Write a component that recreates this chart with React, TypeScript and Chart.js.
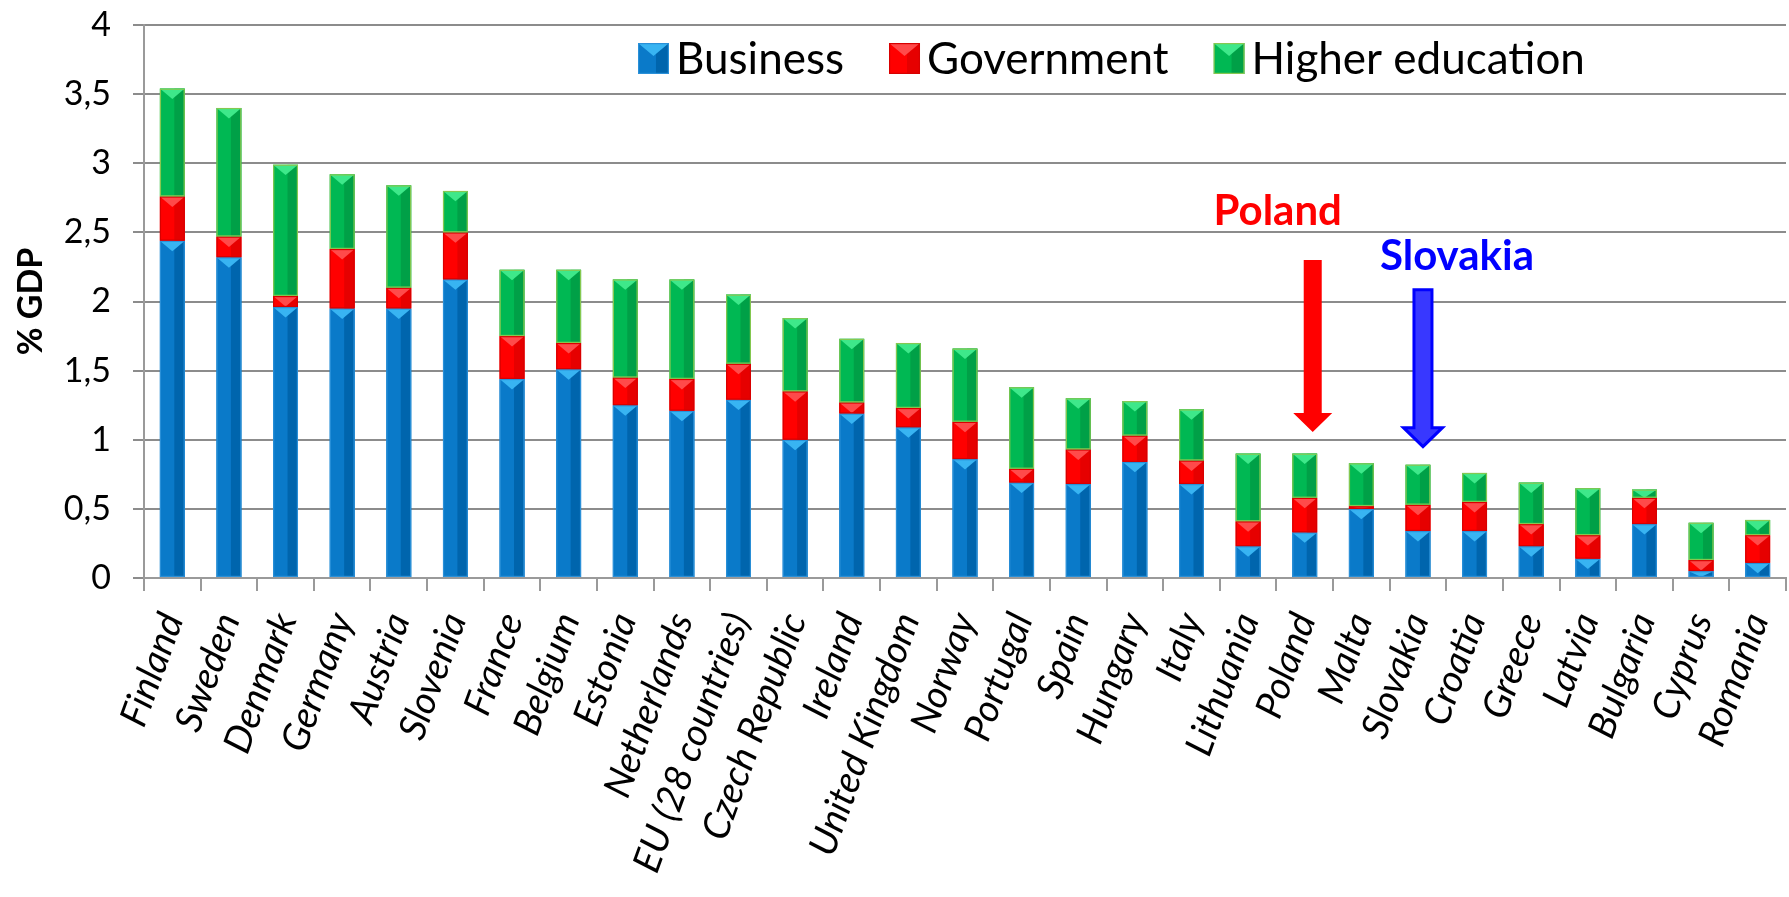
import React, { useEffect, useRef } from 'react';
import { Chart, registerables } from 'chart.js';

Chart.register(...registerables);

const categories = [
  'Finland', 'Sweden', 'Denmark', 'Germany', 'Austria', 'Slovenia', 'France', 'Belgium',
  'Estonia', 'Netherlands', 'EU (28 countries)', 'Czech Republic', 'Ireland', 'United Kingdom',
  'Norway', 'Portugal', 'Spain', 'Hungary', 'Italy', 'Lithuania', 'Poland', 'Malta', 'Slovakia',
  'Croatia', 'Greece', 'Latvia', 'Bulgaria', 'Cyprus', 'Romania',
];

const business = [
  2.44, 2.32, 1.96, 1.95, 1.95, 2.16, 1.44, 1.51, 1.25, 1.21, 1.29, 1.0, 1.19, 1.09,
  0.86, 0.69, 0.68, 0.84, 0.68, 0.23, 0.33, 0.5, 0.34, 0.34, 0.23, 0.14, 0.39, 0.05, 0.11,
];

const government = [
  0.32, 0.15, 0.08, 0.43, 0.15, 0.34, 0.31, 0.19, 0.2, 0.23, 0.26, 0.35, 0.08, 0.14,
  0.27, 0.1, 0.25, 0.19, 0.17, 0.18, 0.25, 0.02, 0.19, 0.21, 0.16, 0.17, 0.19, 0.08, 0.2,
];

const higherEducation = [
  0.78, 0.93, 0.95, 0.54, 0.74, 0.3, 0.48, 0.53, 0.71, 0.72, 0.5, 0.53, 0.46, 0.47,
  0.53, 0.59, 0.37, 0.25, 0.37, 0.49, 0.32, 0.31, 0.29, 0.21, 0.3, 0.34, 0.06, 0.27, 0.11,
];

const seriesNames = ['Business', 'Government', 'Higher education'];

const yAxisTitle = '% GDP';

const highlights = [
  { label: 'Poland', category: 'Poland', color: '#ff0000', fill: '#ff0000', outline: '', textDx: -27, textValue: 2.553, arrowDx: 8, arrowTop: 2.3, arrowTip: 1.056 },
  { label: 'Slovakia', category: 'Slovakia', color: '#0000ff', fill: '#3838ff', outline: '#0000ff', textDx: 39, textValue: 2.228, arrowDx: 5, arrowTop: 2.085, arrowTip: 0.95 },
];

const FONT = 'Lato, "Open Sans", "DejaVu Sans", sans-serif';

const styles = [
  { main: '#0a7ac9', dark: '#0065ad', light: '#38b4f2', border: '#2a90d8' },
  { main: '#ff0000', dark: '#e60000', light: '#ff4a4a', border: '#d80000' },
  { main: '#00b853', dark: '#00a047', light: '#3ee88a', border: '#86c850' },
];

function drawBevelBox(ctx: CanvasRenderingContext2D, left: number, top: number, width: number, h: number, st: any) {
  if (h <= 0.2) return;
  const right = left + width;
  const cx = left + width / 2;
  ctx.save();
  ctx.beginPath();
  ctx.rect(left, top, width, h);
  ctx.clip();
  ctx.fillStyle = st.main;
  ctx.fillRect(left, top, width, h);
  ctx.fillStyle = st.dark;
  ctx.fillRect(cx + width * 0.08, top, right - (cx + width * 0.08), h);
  const th = Math.min(width * 0.42, h);
  ctx.fillStyle = st.light;
  ctx.beginPath();
  ctx.moveTo(left, top);
  ctx.lineTo(right, top);
  ctx.lineTo(cx, top + th);
  ctx.closePath();
  ctx.fill();
  ctx.restore();
  ctx.save();
  ctx.strokeStyle = st.border;
  ctx.lineWidth = 1.2;
  ctx.strokeRect(left + 0.6, top + 0.6, width - 1.2, Math.max(h - 1.2, 0.1));
  ctx.restore();
}

const bevelPlugin = {
  id: 'bevelBars',
  afterDatasetsDraw(chart: any) {
    const ctx = chart.ctx as CanvasRenderingContext2D;
    chart.data.datasets.forEach((_ds: any, di: number) => {
      const meta = chart.getDatasetMeta(di);
      const st = styles[di];
      meta.data.forEach((bar: any) => {
        const { x, y, base, width } = bar.getProps(['x', 'y', 'base', 'width'], true);
        const top = Math.min(y, base);
        const bottom = Math.max(y, base);
        drawBevelBox(ctx, x - width / 2, top, width, bottom - top, st);
      });
    });
  },
};

const legendPlugin = {
  id: 'insideLegend',
  afterDraw(chart: any) {
    const ctx = chart.ctx as CanvasRenderingContext2D;
    const area = chart.chartArea;
    let x = area.left + 494;
    const boxTop = area.top + 18;
    const box = 31;
    ctx.save();
    ctx.font = `44px ${FONT}`;
    ctx.textBaseline = 'alphabetic';
    ctx.textAlign = 'left';
    seriesNames.forEach((name, i) => {
      drawBevelBox(ctx, x, boxTop, box, box, styles[i]);
      const tx = x + box + 7;
      ctx.fillStyle = '#000';
      ctx.fillText(name, tx, boxTop + 31);
      x = tx + ctx.measureText(name).width + 45;
    });
    ctx.restore();
  },
};

const highlightPlugin = {
  id: 'highlights',
  afterDraw(chart: any) {
    const ctx = chart.ctx as CanvasRenderingContext2D;
    const xs = chart.scales.x;
    const ys = chart.scales.y;
    highlights.forEach((h) => {
      const idx = categories.indexOf(h.category);
      const cx = xs.getPixelForValue(idx);
      ctx.save();
      ctx.font = `bold 42px ${FONT}`;
      ctx.textAlign = 'center';
      ctx.textBaseline = 'alphabetic';
      ctx.fillStyle = h.color;
      ctx.fillText(h.label, cx + h.textDx, ys.getPixelForValue(h.textValue));
      const ax = cx + h.arrowDx;
      const top = ys.getPixelForValue(h.arrowTop);
      const tip = ys.getPixelForValue(h.arrowTip);
      const headH = 19;
      const shaft = 18;
      const head = 39;
      ctx.beginPath();
      ctx.moveTo(ax - shaft / 2, top);
      ctx.lineTo(ax + shaft / 2, top);
      ctx.lineTo(ax + shaft / 2, tip - headH);
      ctx.lineTo(ax + head / 2, tip - headH);
      ctx.lineTo(ax, tip);
      ctx.lineTo(ax - head / 2, tip - headH);
      ctx.lineTo(ax - shaft / 2, tip - headH);
      ctx.closePath();
      ctx.fillStyle = h.fill;
      ctx.fill();
      if (h.outline) {
        ctx.strokeStyle = h.outline;
        ctx.lineWidth = 3;
        ctx.lineJoin = 'miter';
        ctx.stroke();
      }
      ctx.restore();
    });
  },
};

export default function App() {
  const canvasRef = useRef<HTMLCanvasElement | null>(null);

  useEffect(() => {
    document.body.style.margin = '0';
    const canvas = canvasRef.current;
    if (!canvas) return;
    const seriesData = [business, government, higherEducation];
    const chart = new Chart(canvas, {
      type: 'bar',
      data: {
        labels: categories,
        datasets: seriesNames.map((name, i) => ({
          label: name,
          data: seriesData[i],
          backgroundColor: styles[i].main,
          borderWidth: 0,
          barPercentage: 0.44,
          categoryPercentage: 1,
        })),
      },
      options: {
        responsive: false,
        animation: false,
        devicePixelRatio: 1,
        layout: { padding: { top: 25, right: 3, left: 0, bottom: 0 } },
        plugins: {
          legend: { display: false },
          tooltip: { enabled: false },
        },
        scales: {
          x: {
            stacked: true,
            grid: {
              offset: true,
              drawOnChartArea: false,
              drawTicks: true,
              tickLength: 13,
              color: '#9a9a9a',
              lineWidth: 2,
            },
            border: { display: true, color: '#9a9a9a', width: 2 },
            ticks: {
              autoSkip: false,
              minRotation: 70,
              maxRotation: 70,
              color: '#000',
              padding: 16,
              font: { family: FONT, size: 38, style: 'italic' },
            },
            afterFit: (s: any) => {
              s.height = 319;
              s.paddingLeft = 0;
              s.paddingRight = 0;
            },
          },
          y: {
            stacked: true,
            min: 0,
            max: 4,
            ticks: {
              stepSize: 0.5,
              color: '#000',
              padding: 22,
              font: { family: FONT, size: 34 },
              callback: (v: any) => String(v).replace('.', ','),
            },
            grid: { color: '#8c8c8c', lineWidth: 2, tickLength: 11 },
            border: { display: true, color: '#9a9a9a', width: 2 },
            title: {
              display: true,
              text: yAxisTitle,
              color: '#000',
              font: { family: FONT, size: 34, weight: 'bold' },
              padding: { top: 11, bottom: 0 },
            },
            afterFit: (s: any) => {
              s.width = 144;
              s.paddingTop = 0;
              s.paddingBottom = 0;
            },
          },
        },
      },
      plugins: [bevelPlugin, legendPlugin, highlightPlugin],
    } as any);
    return () => chart.destroy();
  }, []);

  return (
    <div style={{ width: 1789, height: 897, background: '#fff' }}>
      <canvas ref={canvasRef} width={1789} height={897} style={{ display: 'block' }} />
    </div>
  );
}
